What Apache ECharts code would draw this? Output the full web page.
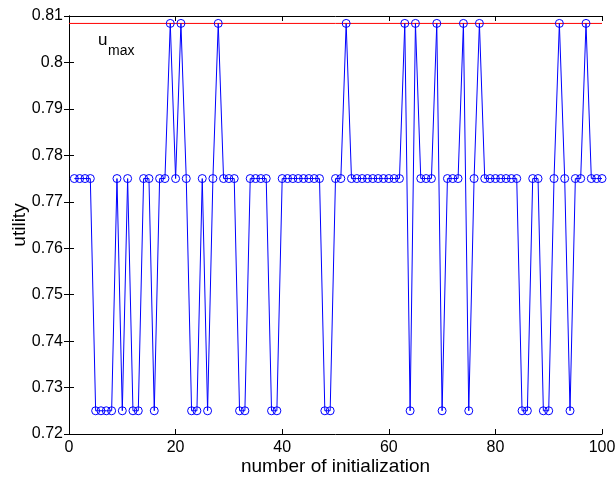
<!DOCTYPE html>
<html>
<head>
<meta charset="utf-8">
<script src="https://cdn.jsdelivr.net/npm/echarts@6/dist/echarts.min.js"></script>
<style>html,body{margin:0;padding:0;background:#fff}#c{width:616px;height:479px}</style>
</head>
<body>
<div id="c"></div>
<script>
// x positions: number of initialization 1..100
const initIndex = [];
for (let i = 1; i <= 100; i++) initIndex.push(i);
const utility = [
  0.775,0.775,0.775,0.775,0.725,0.725,0.725,0.725,0.775,0.725,
  0.775,0.725,0.725,0.775,0.775,0.725,0.775,0.775,0.8084,0.775,
  0.8084,0.775,0.725,0.725,0.775,0.725,0.775,0.8084,0.775,0.775,
  0.775,0.725,0.725,0.775,0.775,0.775,0.775,0.725,0.725,0.775,
  0.775,0.775,0.775,0.775,0.775,0.775,0.775,0.725,0.725,0.775,
  0.775,0.8084,0.775,0.775,0.775,0.775,0.775,0.775,0.775,0.775,
  0.775,0.775,0.8084,0.725,0.8084,0.775,0.775,0.775,0.8084,0.725,
  0.775,0.775,0.775,0.8084,0.725,0.775,0.8084,0.775,0.775,0.775,
  0.775,0.775,0.775,0.775,0.725,0.725,0.775,0.775,0.725,0.725,
  0.775,0.8084,0.775,0.725,0.775,0.775,0.8084,0.775,0.775,0.775
];
const uMax = 0.8084;
const uMaxLineX = [0, 100];
const xTicks = [0, 20, 40, 60, 80, 100];
const yTicks = [0.72,0.73,0.74,0.75,0.76,0.77,0.78,0.79,0.8,0.81];

const chart = echarts.init(document.getElementById('c'), null, {renderer: 'canvas'});
const font = '"Liberation Sans", Arial, Helvetica, sans-serif';
const axisLine = {show: true, lineStyle: {color: '#000', width: 1}};
const tickIn = {show: true, inside: true, length: 5, lineStyle: {color: '#000', width: 1}};
chart.setOption({
  backgroundColor: '#fff',
  animation: false,
  grid: {left: 69, right: 14, top: 16, bottom: 45, containLabel: false, outerBoundsMode: 'none'},
  xAxis: [{
    type: 'value', min: 0, max: 100, interval: 20, position: 'bottom',
    name: 'number of initialization', nameLocation: 'middle', nameGap: 23, nameMoveOverlap: false,
    nameTextStyle: {fontFamily: font, fontSize: 19, color: '#000'},
    axisLine: axisLine, axisTick: tickIn,
    axisLabel: {fontFamily: font, fontSize: 16, color: '#000', margin: 6,
      formatter: v => xTicks.includes(v) ? String(v) : ''},
    splitLine: {show: false}
  }, {
    type: 'value', min: 0, max: 100, interval: 20, position: 'top',
    axisLine: axisLine, axisTick: tickIn, axisLabel: {show: false}, splitLine: {show: false}
  }],
  yAxis: [{
    type: 'value', min: 0.72, max: 0.81, interval: 0.01, position: 'left',
    name: 'utility', nameLocation: 'middle', nameGap: 40, nameRotate: 90, nameMoveOverlap: false,
    nameTextStyle: {fontFamily: font, fontSize: 19, color: '#000'},
    axisLine: axisLine, axisTick: tickIn,
    axisLabel: {fontFamily: font, fontSize: 16, color: '#000', margin: 6,
      formatter: v => { const r = Math.round(v * 100) / 100; return yTicks.includes(r) ? String(r) : ''; }},
    splitLine: {show: false}
  }, {
    type: 'value', min: 0.72, max: 0.81, interval: 0.01, position: 'right',
    axisLine: axisLine, axisTick: tickIn, axisLabel: {show: false}, splitLine: {show: false}
  }],
  graphic: [{
    type: 'text', x: 98, y: 40, z: 100,
    style: {text: 'u', font: '17px ' + font, fill: '#000', verticalAlign: 'middle', align: 'left'}
  }, {
    type: 'text', x: 108, y: 51, z: 100,
    style: {text: 'max', font: '14px ' + font, fill: '#000', verticalAlign: 'middle', align: 'left'}
  }],
  series: [{
    type: 'line', z: 1,
    data: uMaxLineX.map(x => [x, uMax]),
    symbol: 'none', lineStyle: {color: '#ff0000', width: 1}, silent: true
  }, {
    type: 'line', z: 2,
    data: initIndex.map((x, i) => [x, utility[i]]),
    symbol: 'circle', symbolSize: 8, showAllSymbol: true,
    lineStyle: {color: '#0000ff', width: 1},
    itemStyle: {color: 'rgba(0,0,0,0)', borderColor: '#0000ff', borderWidth: 1}
  }]
});
</script>
</body>
</html>
